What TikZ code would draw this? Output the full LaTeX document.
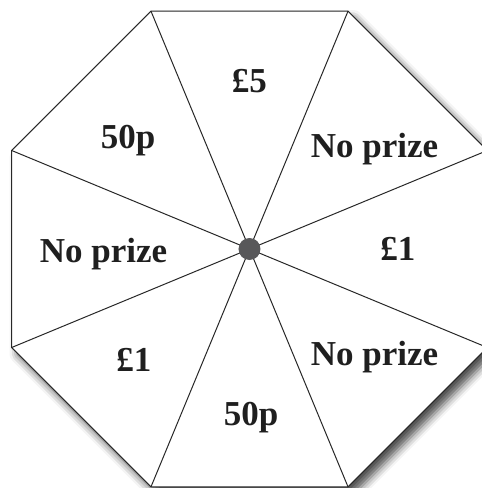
\documentclass[tikz,border=0pt]{standalone}
\usepackage{fontspec}
\setmainfont{Liberation Serif}
\usetikzlibrary{shapes.geometric, shadows.blur}
\definecolor{rim}{RGB}{40,40,40}
\definecolor{hub}{RGB}{88,88,90}

\begin{document}
\begin{tikzpicture}[x=1pt,y=1pt,
    wheel/.style={draw=rim,line width=1pt,fill=white,regular polygon,
      regular polygon sides=8,minimum size=515pt,inner sep=0pt,outer sep=0pt,
      blur shadow={shadow xshift=6pt,shadow yshift=-7pt,shadow blur radius=8pt,
      shadow opacity=70}},
    spoke/.style={rim,line width=1pt},
    prize/.style={anchor=base,font=\bfseries\fontsize{35}{38}\selectfont,text=black!88},
    hubdot/.style={circle,fill=hub,minimum size=22pt,inner sep=0pt}
  ]
  \useasboundingbox (-249.5,-239) rectangle (232.5,249);

  % Spinner
  \node[wheel] (spinner) at (0,0) {};

  % Spokes
  \draw[spoke] (spinner.center) -- (spinner.corner 1);
  \draw[spoke] (spinner.center) -- (spinner.corner 2);
  \draw[spoke] (spinner.center) -- (spinner.corner 3);
  \draw[spoke] (spinner.center) -- (spinner.corner 4);
  \draw[spoke] (spinner.center) -- (spinner.corner 5);
  \draw[spoke] (spinner.center) -- (spinner.corner 6);
  \draw[spoke] (spinner.center) -- (spinner.corner 7);
  \draw[spoke] (spinner.center) -- (spinner.corner 8);

  \node[hubdot] (pivot) at (spinner.center) {};

  % Prizes
  \node[prize] (five) at (0,157) {£5};
  \node[prize] (fiftyTop) at (-121.5,101) {50p};
  \node[prize] (noneTop) at (125,92) {No prize};
  \node[prize] (noneLeft) at (-146,-13) {No prize};
  \node[prize] (oneRight) at (148.5,-11) {£1};
  \node[prize] (oneLeft) at (-115.5,-122) {£1};
  \node[prize] (noneBottom) at (125,-116) {No prize};
  \node[prize] (fiftyBottom) at (1.5,-176) {50p};

\end{tikzpicture}
\end{document}
